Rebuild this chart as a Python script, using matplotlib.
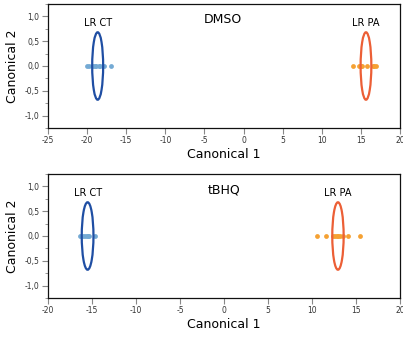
import matplotlib
matplotlib.use("Agg")
import matplotlib.pyplot as plt
from matplotlib.patches import Ellipse
from matplotlib.ticker import MultipleLocator

plt.rcParams['font.family'] = ['DejaVu Sans']

# DMSO panel
dmso_ct_x = [-19.97, -19.7, -19.3, -19.0, -18.8, -18.5, -18.3, -17.9, -16.9]
dmso_pa_x = [14.05, 14.7, 15.0, 15.2, 15.75, 16.5, 16.7, 16.9]
dmso_ct_ell = (-18.65, 0.0, 1.4, 1.36)
dmso_pa_ell = (15.65, 0.0, 1.37, 1.36)

# tBHQ panel
tbhq_ct_x = [-16.4, -16.0, -15.8, -15.6, -15.5, -15.3, -14.65]
tbhq_pa_x = [10.6, 11.6, 12.35, 12.6, 12.8, 13.0, 13.2, 13.55, 14.1, 15.5]
tbhq_ct_ell = (-15.5, 0.0, 1.33, 1.36)
tbhq_pa_ell = (12.95, 0.0, 1.29, 1.36)

dmso_xticks = [-25, -20, -15, -10, -5, 0, 5, 10, 15, 20]
tbhq_xticks = [-20, -15, -10, -5, 0, 5, 10, 15, 20]
yticks = [-1.0, -0.5, 0.0, 0.5, 1.0]

CT_PT = '#74aad4'
CT_EL = '#1f4ea3'
PA_PT = '#f5a133'
PA_EL = '#ec5f36'

fig = plt.figure(figsize=(4.03, 3.37), dpi=100)
ax1 = fig.add_axes([48/403, 1-128/337, 352/403, 124/337])
ax2 = fig.add_axes([48/403, 1-298/337, 352/403, 124/337])

def fmt(v):
    s = f"{v:.1f}".replace('.', ',')
    if s == '-0,0':
        s = '0,0'
    return s

def draw(ax, ct_x, pa_x, ct_ell, pa_ell, xticks, title, title_x, ct_lbl_x, pa_lbl_x):
    ax.scatter(ct_x, [0]*len(ct_x), s=12, color=CT_PT, zorder=2, linewidths=0)
    ax.scatter(pa_x, [0]*len(pa_x), s=12, color=PA_PT, zorder=2, linewidths=0)
    for (cx, cy, w, h), col in [(ct_ell, CT_EL), (pa_ell, PA_EL)]:
        ax.add_patch(Ellipse((cx, cy), w, h, fill=False, edgecolor=col, lw=1.6, zorder=3))
    ax.set_xlim(xticks[0], xticks[-1])
    ax.set_ylim(-1.25, 1.25)
    ax.set_xticks(xticks)
    ax.set_xticklabels([str(t) for t in xticks], fontsize=5.5, color='#333333')
    ax.set_yticks(yticks)
    ax.set_yticklabels([fmt(t) for t in yticks], fontsize=5.5, color='#333333')
    ax.yaxis.set_minor_locator(MultipleLocator(0.25))
    ax.tick_params(axis='both', which='major', length=4, width=0.8, color='#888888', pad=2)
    ax.tick_params(axis='y', which='minor', length=2, width=0.6, color='#888888')
    for sp in ax.spines.values():
        sp.set_linewidth(0.9)
        sp.set_color('#111111')
    ax.set_xlabel('Canonical 1', fontsize=9, labelpad=2)
    ax.set_ylabel('Canonical 2', fontsize=9, labelpad=4)
    ax.text(title_x, 0.93, title, fontsize=9, ha='center', va='center')
    ax.text(ct_lbl_x, 0.86, 'LR CT', fontsize=7, ha='center', va='center')
    ax.text(pa_lbl_x, 0.86, 'LR PA', fontsize=7, ha='center', va='center')

draw(ax1, dmso_ct_x, dmso_pa_x, dmso_ct_ell, dmso_pa_ell, dmso_xticks, 'DMSO', -2.6, -18.6, 15.6)
draw(ax2, tbhq_ct_x, tbhq_pa_x, tbhq_ct_ell, tbhq_pa_ell, tbhq_xticks, 'tBHQ', 0.0, -15.5, 12.9)

fig.savefig('out.png', dpi=100)
